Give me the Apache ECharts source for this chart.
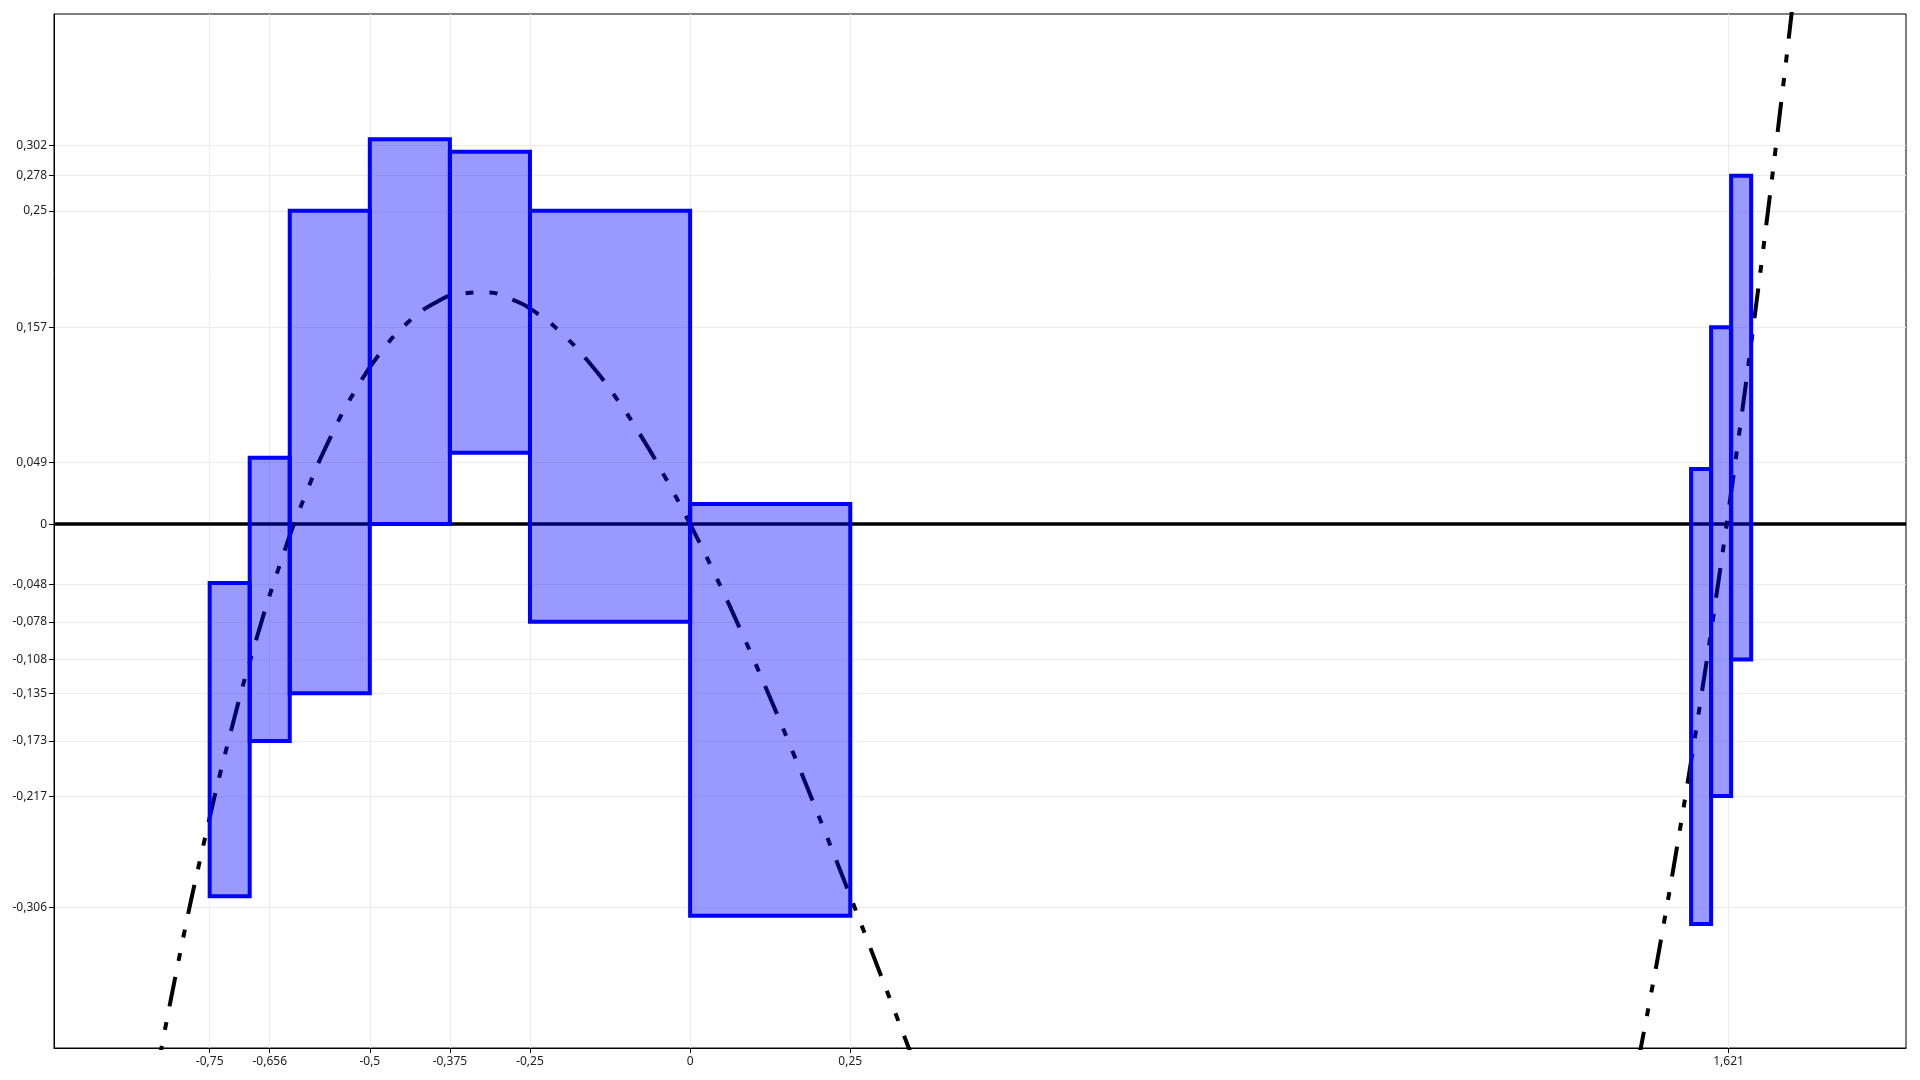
<!DOCTYPE html>
<html>
<head>
<meta charset="utf-8">
<style>
  html, body { margin: 0; padding: 0; background: #fff; }
  #chart { width: 1920px; height: 1080px; }
</style>
<script src="https://cdn.jsdelivr.net/npm/echarts@6/dist/echarts.min.js"></script>
</head>
<body>
<div id="chart"></div>
<script>
// Interval boxes: x from/to, y low/high
const boxX0   = [-0.75, -0.6875, -0.625, -0.5, -0.375, -0.25, 0, 1.5625, 1.59375, 1.625];
const boxX1   = [-0.6875, -0.625, -0.5, -0.375, -0.25, 0, 0.25, 1.59375, 1.625, 1.65625];
const boxLow  = [-0.297, -0.173, -0.135, 0, 0.057, -0.078, -0.3125, -0.319, -0.217, -0.108];
const boxHigh = [-0.047, 0.053, 0.25, 0.307, 0.297, 0.25, 0.016, 0.044, 0.157, 0.278];

// Curve (two visible pieces)
const curveLeftX = [-0.84, -0.80, -0.76, -0.72, -0.68, -0.64, -0.60, -0.56, -0.52, -0.48, -0.44, -0.40, -0.36, -0.32, -0.28, -0.24, -0.20, -0.16, -0.12, -0.08, -0.04, 0, 0.04, 0.08, 0.12, 0.16, 0.20, 0.24, 0.28, 0.32, 0.36];
const curveLeftY = [-0.4583, -0.352, -0.2566, -0.1716, -0.0968, -0.0317, 0.024, 0.0708, 0.109, 0.139, 0.1612, 0.176, 0.1837, 0.1848, 0.1796, 0.1686, 0.152, 0.1303, 0.1039, 0.0731, 0.0383, 0, -0.0415, -0.0859, -0.1327, -0.1815, -0.232, -0.2838, -0.3364, -0.3896, -0.4429];
const curveRightX = [1.48, 1.50, 1.52, 1.54, 1.56, 1.58, 1.60, 1.62, 1.64, 1.66, 1.68, 1.70, 1.72, 1.74];
const curveRightY = [-0.4286, -0.375, -0.3186, -0.2593, -0.1972, -0.1321, -0.064, 0.0071, 0.0813, 0.1587, 0.2392, 0.323, 0.41, 0.5004];

// Tick labels
const xTicks = [-0.75, -0.65625, -0.5, -0.375, -0.25, 0, 0.25, 1.621];
const yTicks = [0.302, 0.278, 0.25, 0.157, 0.049, 0, -0.048, -0.078, -0.108, -0.135, -0.173, -0.217, -0.306];

const fmt = v => String(Math.round(v * 1000) / 1000).replace('.', ',');

const chart = echarts.init(document.getElementById('chart'));
const labelStyle = { fontFamily: 'Noto Sans', fontSize: 12, color: '#222' };

const boxData = boxX0.map((x0, i) => [x0, boxX1[i], boxLow[i], boxHigh[i]]);
const zip = (xs, ys) => xs.map((x, i) => [x, ys[i]]);
const curveStyle = { color: '#000', width: 4, type: [30, 16, 8, 16, 8, 16], cap: 'butt' };

chart.setOption({
  animation: false,
  backgroundColor: '#fff',
  grid: { left: 54, right: 14, top: 14, bottom: 32, show: true, borderColor: '#000', borderWidth: 1, backgroundColor: 'transparent' },
  xAxis: {
    type: 'value', min: -0.993, max: 1.898,
    axisLine: { show: true, onZero: false, lineStyle: { color: '#000', width: 1 } },
    axisTick: { show: true, length: 5, customValues: xTicks, lineStyle: { color: '#000' } },
    axisLabel: Object.assign({ customValues: xTicks, formatter: fmt, margin: 8 }, labelStyle),
    splitLine: { show: true, lineStyle: { color: '#ebebeb', width: 1 } }
  },
  yAxis: {
    type: 'value', min: -0.418, max: 0.407,
    axisLine: { show: true, onZero: false, lineStyle: { color: '#000', width: 1 } },
    axisTick: { show: true, length: 5, customValues: yTicks, lineStyle: { color: '#000' } },
    axisLabel: Object.assign({ customValues: yTicks, formatter: fmt, margin: 7 }, labelStyle),
    splitLine: { show: true, lineStyle: { color: '#ebebeb', width: 1 } }
  },
  series: [
    {
      type: 'line', z: 2, data: zip(curveLeftX, curveLeftY), showSymbol: false, clip: true, smooth: 0.5,
      lineStyle: curveStyle,
      markLine: {
        silent: true, symbol: 'none', label: { show: false },
        lineStyle: { color: '#000', width: 3.5, type: 'solid' },
        data: [{ yAxis: 0 }]
      }
    },
    {
      type: 'line', z: 2, data: zip(curveRightX, curveRightY), showSymbol: false, clip: true, smooth: 0.5,
      lineStyle: curveStyle
    },
    {
      type: 'custom', z: 5, clip: true,
      data: boxData,
      renderItem: function (params, api) {
        const p0 = api.coord([api.value(0), api.value(3)]);
        const p1 = api.coord([api.value(1), api.value(2)]);
        return {
          type: 'rect',
          shape: { x: p0[0], y: p0[1], width: p1[0] - p0[0], height: p1[1] - p0[1] },
          style: { fill: 'rgba(0,0,255,0.4)', stroke: '#0000ff', lineWidth: 4 }
        };
      },
      encode: { x: [0, 1], y: [2, 3] }
    }
  ]
});
</script>
</body>
</html>
